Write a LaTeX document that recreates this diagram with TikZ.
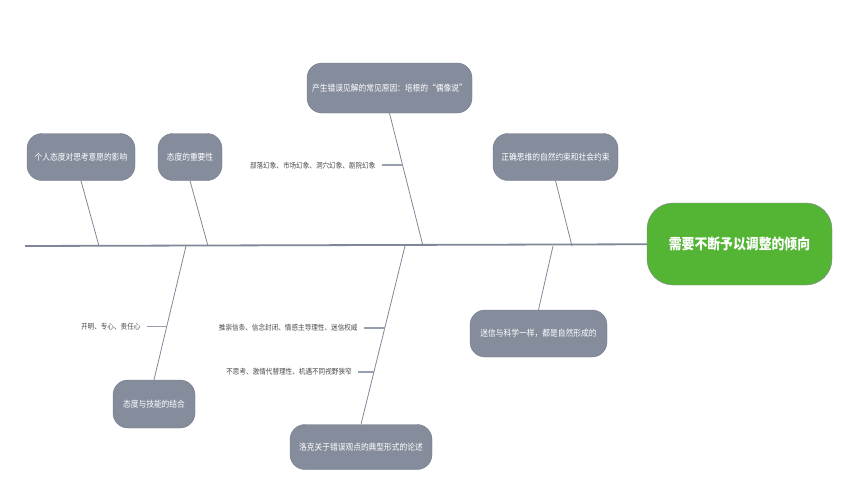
\documentclass[tikz,border=0pt]{standalone}
\usepackage{fontspec}
\newfontfamily\cjk[FakeStretch=0.88]{Noto Sans CJK SC}
\usetikzlibrary{positioning,calc}
\definecolor{boxgray}{RGB}{133,141,157}
\definecolor{bonegray}{RGB}{128,136,152}
\definecolor{headgreen}{RGB}{84,180,52}
\definecolor{labelgray}{RGB}{75,75,75}
\begin{document}
\begin{tikzpicture}[x=1pt,y=-1pt,font=\cjk\fontsize{8.8}{10}\selectfont,
    topic/.style={fill=boxgray,draw=boxgray!85!black,line width=0.4pt,text=white,rounded corners=15pt,minimum height=47pt,inner sep=0pt},
    head/.style={fill=headgreen,draw=bonegray,text=white,rounded corners=26pt,minimum width=185pt,minimum height=82pt,font=\cjk\bfseries\fontsize{14.6}{16}\selectfont},
    note/.style={text=labelgray,inner sep=0pt,font=\cjk\fontsize{7.5}{9}\selectfont},
    bone/.style={draw=bonegray,line width=0.8pt},
    spine/.style={draw=bonegray,line width=1.8pt},
    tick/.style={draw=bonegray!80,line width=1.3pt}]
    \useasboundingbox[fill=white] (0,0) rectangle (855,493);
    \node[head] (h) at (739.5,244) {需要不断予以调整的倾向};
    \node[topic,minimum width=108pt] (a) at (81,157) {个人态度对思考意愿的影响};
    \node[topic,minimum width=64pt] (b) at (190,157) {态度的重要性};
    \node[topic,minimum width=165pt,minimum height=50pt] (c) at (389.5,88) {产生错误见解的常见原因：培根的“偶像说”};
    \node[topic,minimum width=125pt] (d) at (555.5,157) {正确思维的自然约束和社会约束};
    \node[topic,minimum width=137pt] (e) at (538.5,333.5) {迷信与科学一样，都是自然形成的};
    \node[topic,minimum width=142pt,minimum height=45pt] (f) at (361,447) {洛克关于错误观点的典型形式的论述};
    \node[topic,minimum width=82pt,minimum height=48pt] (g) at (154,404) {态度与技能的结合};
    \coordinate (s) at (25,246);
    \foreach \n/\x in {a/99,b/208,c/423,d/572,e/553,f/405,g/186} { \coordinate (s\n) at (\x,246); }
    \foreach \u in {a,b,c,d} { \draw[bone] (\u.south) -- (s\u); }
    \foreach \u in {e,f,g} { \draw[bone] (\u.north) -- (s\u); }
    \draw[spine] (s) -- (h);
    \coordinate (p1) at ($(c.south)!0.391!(sc)$);
    \coordinate (p2) at ($(f.north)!0.54!(sf)$);
    \coordinate (p3) at ($(f.north)!0.294!(sf)$);
    \coordinate (p4) at ($(g.north)!0.396!(sg)$);
    \node[note,left=27pt of p1] (l1) {部落幻象、市场幻象、洞穴幻象、剧院幻象};
    \node[note,left=27pt of p2] (l2) {推崇信条、信念封闭、情感主导理性、迷信权威};
    \node[note,left=22pt of p3] (l3) {不思考、激情代替理性、机遇不同视野狭窄};
    \node[note,left=26pt of p4] (l4) {开明、专心、责任心};
    \foreach \u/\v in {l1/p1,l2/p2,l3/p3,l4/p4} { \draw[tick] ([xshift=6pt]\u.east) -- (\v); }
  \end{tikzpicture}
\end{document}
